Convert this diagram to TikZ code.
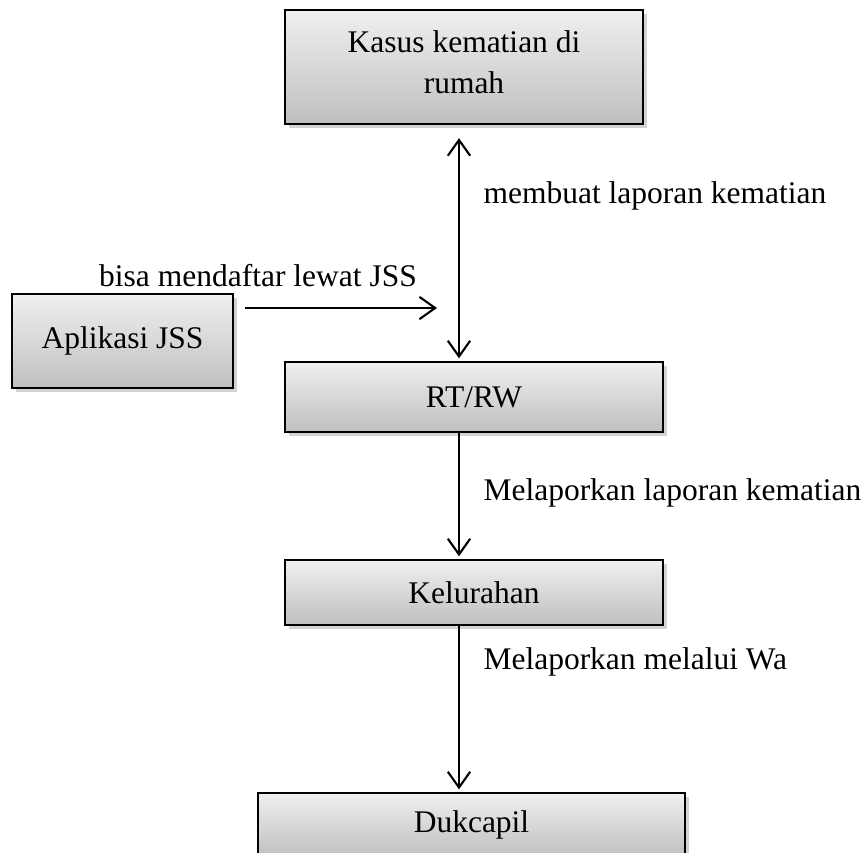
\documentclass[tikz,border=0pt]{standalone}
\usepackage{fontspec}
\setmainfont{Liberation Serif}
\usetikzlibrary{arrows.meta,shadows}

\begin{document}
\begin{tikzpicture}[x=0.381pt, y=-0.381pt,
    >={Straight Barb[length=6pt,width=8.5pt]},
    every node/.style={font=\fontsize{12}{15.5}\selectfont},
    flowbox/.style={draw, line width=0.8pt, inner sep=0pt, align=center,
        top color=black!6, bottom color=black!25,
        drop shadow={shadow xshift=1.6pt, shadow yshift=-1.6pt, opacity=0.35}},
    flow/.style={->, line width=0.8pt},
    note/.style={inner sep=0pt, anchor=west}]

    \useasboundingbox (0,0) rectangle (868,852);

    % Boxes
    \node[flowbox, minimum width=136.4pt, minimum height=43.4pt] (kasus) at (464,67)
        {Kasus kematian di\\rumah\\[-11.5pt]};
    \node[flowbox, minimum width=84.2pt, minimum height=35.8pt] (jss) at (122.5,341)
        {Aplikasi JSS};
    \node[flowbox, minimum width=144pt, minimum height=26.7pt] (rtrw) at (474,397) {RT/RW};
    \node[flowbox, minimum width=144pt, minimum height=24.8pt] (kelurahan) at (474,592.5) {Kelurahan};
    \node[flowbox, minimum width=162.7pt, minimum height=24.4pt] (dukcapil) at (471.5,825) {Dukcapil};

    % Spine of the vertical arrows
    \coordinate (spine) at (459,0);
    \coordinate (daftar) at (437,308);

    % Arrows
    \draw[flow, <->, shorten <=5pt, shorten >=1pt] (kasus.south -| spine) -- (rtrw.north -| spine);
    \draw[flow, shorten >=1pt] (rtrw.south -| spine) -- (kelurahan.north -| spine);
    \draw[flow, shorten >=1pt] (kelurahan.south -| spine) -- (dukcapil.north -| spine);
    \draw[flow] ([xshift=4pt]jss.east |- daftar) -- (daftar);

    % Labels
    \node[inner sep=0pt] (lbljss) at (258,276) {bisa mendaftar lewat JSS};
    \node[note] (lbllapor) at (483,196) {membuat laporan kematian};
    \node[note] (lblrtrw) at (483,493) {Melaporkan laporan kematian};
    \node[note] (lblwa) at (483,662) {Melaporkan melalui Wa};

\end{tikzpicture}
\end{document}
